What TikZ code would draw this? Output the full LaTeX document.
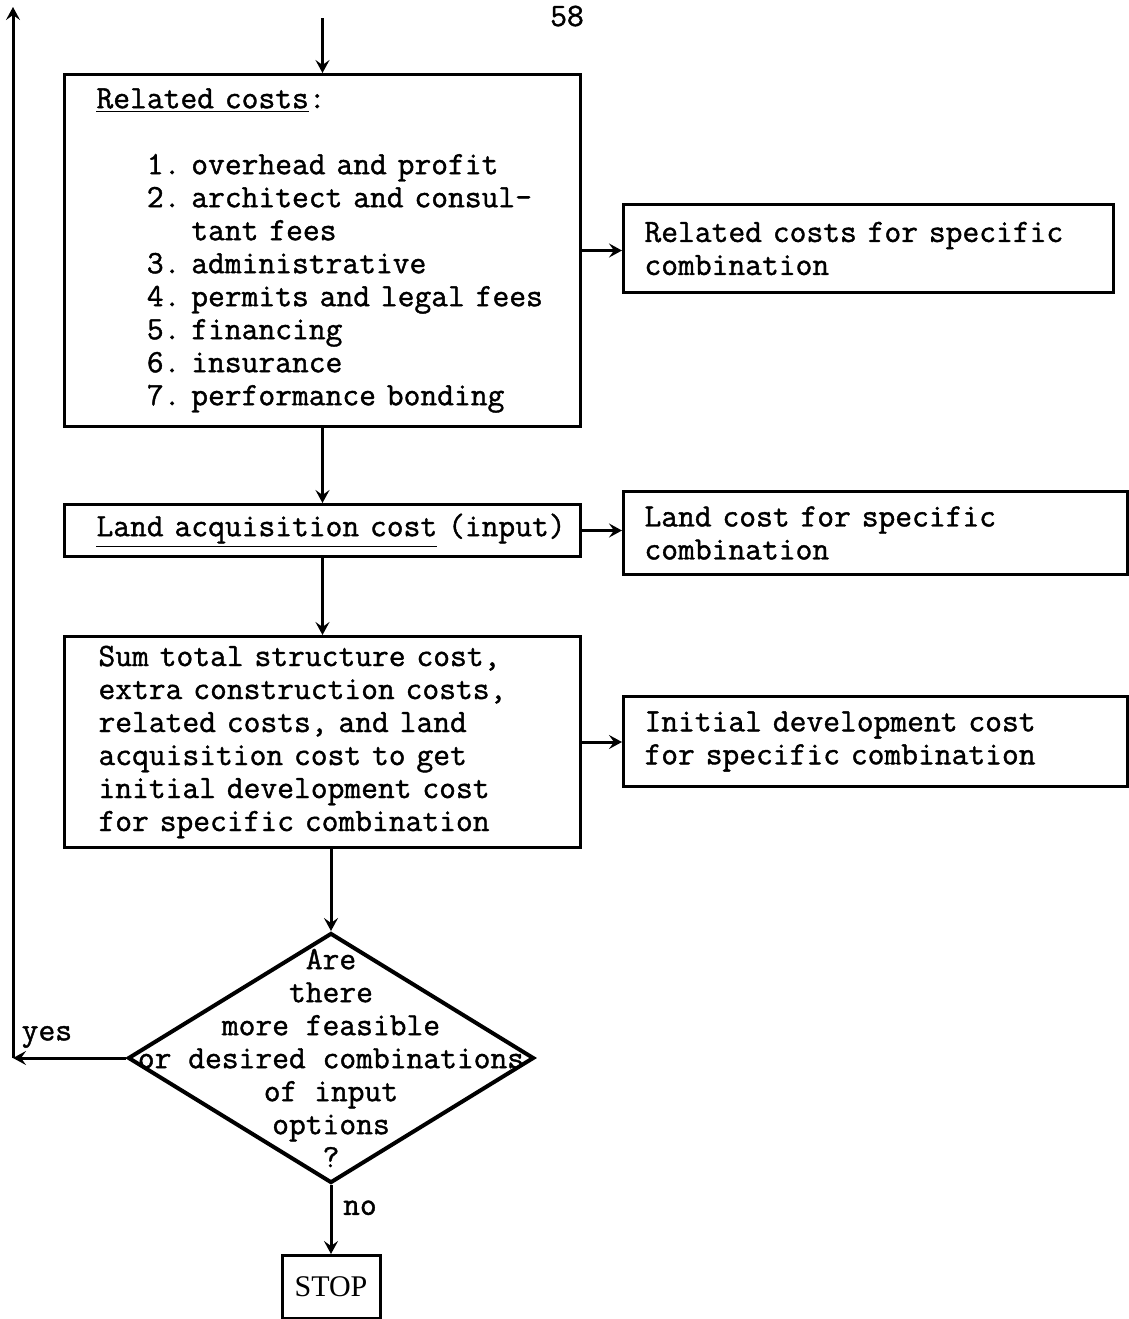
\documentclass[tikz,border=0pt]{standalone}
\usepackage{fontspec}
\newfontfamily\stopfont{Liberation Serif}
\newfontfamily\typewriter{Latin Modern Mono}[FakeBold=1.2]
\usetikzlibrary{arrows.meta,shapes.geometric}
\begin{document}
\frenchspacing
\begin{tikzpicture}[x=0.5pt,y=-0.5pt,line width=1.5pt,
        >={Stealth[length=6.5pt,width=7pt,inset=2.5pt]},
        typed/.style={font=\fontsize{16.3}{16.5}\selectfont\typewriter},
        costbox/.style={typed,draw,anchor=north west,align=left,inner ysep=0pt},
        outbox/.style={costbox,inner xsep=10.5pt},
        choice/.style={draw,diamond,line width=2pt,minimum width=203pt,minimum height=125pt,inner sep=0pt}]
    \useasboundingbox (0,0) rectangle (1129,1319);
    \node[typed,anchor=base] (page) at (567,26) {58};
    \node[costbox,inner xsep=16pt,text width=226pt,minimum height=176pt] (related) at (63,73) {\underline{Related costs}:\\[16.5pt]
        \phantom{000}1. overhead and profit\\
        \phantom{000}2. architect and consul-\\
        \phantom{0002.\ }tant fees\\
        \phantom{000}3. administrative\\
        \phantom{000}4. permits and legal fees\\
        \phantom{000}5. financing\\
        \phantom{000}6. insurance\\
        \phantom{000}7. performance bonding};
    \node[outbox,text width=224pt,minimum height=44pt] (relout) at (622,203) {Related costs for specific\\combination};
    \node[costbox,inner xsep=16pt,text width=226pt,minimum height=26pt] (land) at (63,503) {\mbox{\underline{Land acquisition cost} (input)}};
    \node[outbox,text width=231pt,minimum height=41.5pt] (landout) at (622,490) {Land cost for specific\\combination};
    \node[costbox,inner xsep=17pt,text width=224pt,minimum height=105.5pt] (sum) at (63,635) {Sum total structure cost,\\extra construction costs,\\related costs, and land\\acquisition cost to get\\initial development cost\\for specific combination};
    \node[outbox,text width=231pt,minimum height=45pt] (devout) at (622,695) {Initial development cost\\for specific combination};
    \node[choice] (more) at (331,1058) {};
    \node[typed,align=center] (moretext) at (more) {Are\\there\\more feasible\\or desired combinations\\of input\\options\\?};
    \node[draw,minimum width=49pt,minimum height=31.5pt,font=\fontsize{15}{17}\stopfont] (stop) at (331,1287) {STOP};
    \coordinate (entry) at ([yshift=27.5pt]related.north);
    \coordinate (backtop) at (13,7);
    \draw[->] (entry) -- (related.north);
    \draw[->] (related.east) -- (related.east -| relout.west);
    \draw[->] (related.south) -- (land.north);
    \draw[->] (land.east) -- (land.east -| landout.west);
    \draw[->] (land.south) -- (sum.north);
    \draw[->] (sum.east) -- (sum.east -| devout.west);
    \draw[->] (sum.south -| more.north) -- (more.north);
    \draw[->] (more.west) -- (more.west -| backtop) node[typed,pos=0.7,above=1pt] (yes) {yes};
    \draw[->] (more.west -| backtop) -- (backtop);
    \draw[->] (more.south) -- (stop.north) node[typed,pos=0.33,right=2pt] (no) {no};
\end{tikzpicture}
\end{document}
